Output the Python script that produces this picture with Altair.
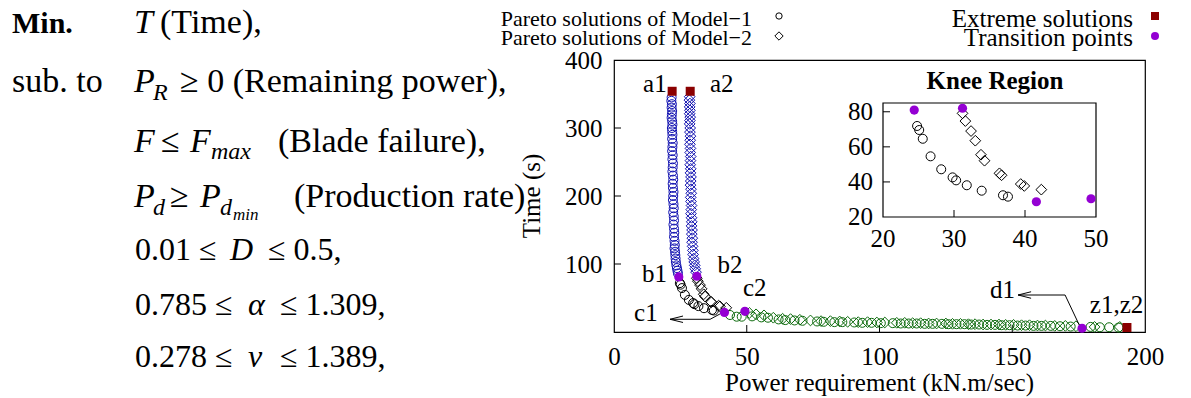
import altair as alt
import pandas as pd

FONT = "Liberation Serif"

# ---------------- data ----------------
# Model-1 Pareto solutions (circles)
m1_blue_x = [21.7, 21.6, 21.8, 21.7, 21.9, 21.8, 21.7, 21.9, 22.0, 21.8,
             21.9, 22.0, 21.9, 22.1, 22.0, 21.9, 22.1, 22.0, 22.2, 22.1,
             22.0, 22.2, 22.3, 22.1, 22.2, 22.4, 22.3, 22.2, 22.4, 22.5,
             22.3, 22.5, 22.6, 22.4, 22.6, 22.7, 22.6, 22.8, 22.9, 22.8,
             23.0, 23.1, 23.2, 23.3, 23.5, 23.7, 23.9, 24.1]
m1_blue_y = [345, 340, 335, 330, 325, 320, 315, 310, 305, 300,
             295, 290, 284, 278, 272, 266, 260, 254, 248, 242,
             236, 230, 224, 218, 212, 206, 200, 194, 188, 182,
             176, 170, 164, 158, 152, 146, 140, 134, 128, 123,
             118, 113, 108, 103, 98, 94, 90, 86]
m1_knee_x = [24.8, 25.1, 25.6, 26.7, 28.2, 29.8, 30.3, 31.8, 33.9, 36.9, 37.6]
m1_knee_y = [71.9, 69.6, 64.6, 54.6, 47.2, 42.6, 40.9, 38.1, 35.0, 32.4, 31.6]
m1_green_x = [43.7, 46.2, 48.1, 52.0, 55.5, 58.0, 62.0, 64.5, 68.0, 71.0,
              76.5, 79.0, 83.0, 86.0, 90.5, 93.5, 97.0, 100.5, 105.0, 108.0,
              111.0, 114.0, 117.0, 120.0, 123.5, 126.0, 129.0, 132.0, 134.5, 137.5,
              140.5, 143.5, 146.0, 149.0, 152.0, 155.0, 158.0, 161.0, 164.5, 168.0,
              172.0, 179.5, 183.0, 186.5, 190.0]
m1_green_y = [25.0, 22.5, 22.5, 23.0, 21.5, 21.0, 18.5, 17.5, 17.0, 16.5,
              15.5, 15.0, 14.5, 14.5, 14.0, 13.5, 13.5, 13.0, 13.0, 12.5,
              12.5, 12.5, 12.0, 12.0, 12.0, 11.5, 11.5, 11.5, 11.0, 11.0,
              10.5, 10.5, 10.0, 10.0, 9.5, 9.5, 9.0, 9.0, 9.0, 8.5,
              8.0, 7.5, 7.0, 7.0, 6.5]

# Model-2 Pareto solutions (diamonds)
m2_blue_x = [28.5, 28.4, 28.6, 28.5, 28.6, 28.5, 28.7, 28.6, 28.5, 28.7,
             28.6, 28.8, 28.7, 28.6, 28.8, 28.7, 28.9, 28.8, 28.7, 28.9,
             28.8, 29.0, 28.9, 28.8, 29.0, 29.1, 28.9, 29.0, 29.2, 29.1,
             29.0, 29.2, 29.3, 29.2, 29.4, 29.3, 29.5, 29.4, 29.6, 29.7,
             29.8, 30.0, 30.2, 30.4, 30.6, 30.9]
m2_blue_y = [346, 341, 336, 331, 326, 321, 316, 311, 306, 300,
             294, 288, 282, 276, 270, 264, 258, 252, 246, 240,
             234, 228, 222, 216, 210, 204, 198, 192, 186, 180,
             174, 168, 162, 156, 150, 144, 138, 132, 126, 120,
             114, 108, 103, 98, 93, 88]
m2_knee_x = [31.2, 31.6, 32.4, 33.0, 33.8, 34.3, 36.4, 36.7, 39.4, 39.9, 42.3]
m2_knee_y = [79.1, 74.7, 69.0, 63.5, 55.5, 52.1, 44.9, 43.8, 38.8, 37.7, 35.6]
m2_green_x = [51.0, 53.5, 56.5, 60.0, 63.5, 66.5, 70.0, 74.0, 78.0, 81.5,
              85.0, 88.0, 92.0, 95.5, 99.0, 102.0, 106.5, 109.5, 112.5, 115.5,
              118.5, 121.5, 125.0, 127.5, 130.5, 133.5, 136.0, 139.0, 142.0, 145.0,
              147.5, 150.5, 153.5, 156.5, 159.5, 162.5, 166.0, 170.0, 174.0, 181.0,
              190.5]
m2_green_y = [28.0, 26.0, 24.5, 21.0, 19.5, 19.0, 18.0, 17.0, 16.0, 16.0,
              15.5, 15.0, 14.5, 14.5, 14.0, 14.0, 13.5, 13.5, 13.0, 13.0,
              12.5, 12.5, 12.5, 12.0, 12.0, 11.5, 11.5, 11.0, 11.0, 11.0,
              10.5, 10.5, 10.0, 10.0, 9.5, 9.5, 9.0, 9.0, 8.5, 7.5,
              7.5]

# Extreme solutions (a1, a2, z1/z2) and transition points (b1, b2, c1, c2, d1)
extreme_x = [21.9, 28.7, 193.2]
extreme_y = [354, 354, 6.6]
trans_x = [24.4, 31.2, 41.6, 49.3, 176.3]
trans_y = [81.0, 82.0, 28.7, 30.4, 5.5]
inset_trans_x = trans_x[:4]
inset_trans_y = trans_y[:4]

# point labels
label_text = ["a1", "a2", "b1", "b2", "c1", "c2", "d1", "z1,z2"]
label_x = [15.4, 40.6, 15.3, 43.7, 12.0, 53.0, 146.3, 189.3]
label_y = [364, 364, 86, 98, 27.5, 64, 62, 40]

# annotation arrows (segments, data units)
arrow_x = [21.1, 36.2, 21.1, 21.1, 152.2, 169.9, 152.2, 152.2]
arrow_y = [18.7, 18.7, 18.7, 18.7, 54.4, 54.4, 54.4, 54.4]
arrow_x2 = [36.2, 39.9, 26.0, 26.0, 169.9, 175.5, 157.1, 157.1]
arrow_y2 = [18.7, 26.5, 23.5, 14.0, 54.4, 8.1, 59.2, 49.6]

# axes
x_ticks = [0, 50, 100, 150, 200]
y_ticks = [100, 200, 300, 400]
x_inner_ticks = [50, 100, 150]
y_inner_ticks = [100, 200, 300]
inset_x_ticks = [20, 30, 40, 50]
inset_y_ticks = [20, 40, 60, 80]
inset_x_inner = [30, 40]
inset_y_inner = [40, 60, 80]

BLUE = "#1010b0"
BLACK = "#000000"
GREEN = "#0c6a0c"

# ---------------- tables ----------------
def cat(xs, ys, col):
    return pd.DataFrame({"x": xs, "y": ys, "col": [col] * len(xs)})

m1_df = pd.concat([cat(m1_blue_x, m1_blue_y, BLUE), cat(m1_knee_x, m1_knee_y, BLACK),
                   cat(m1_green_x, m1_green_y, GREEN)], ignore_index=True)
m2_df = pd.concat([cat(m2_blue_x, m2_blue_y, BLUE), cat(m2_knee_x, m2_knee_y, BLACK),
                   cat(m2_green_x, m2_green_y, GREEN)], ignore_index=True)
ext_df = pd.DataFrame({"x": extreme_x, "y": extreme_y})
tr_df = pd.DataFrame({"x": trans_x, "y": trans_y})
lab_df = pd.DataFrame({"t": label_text, "x": label_x, "y": label_y})
arr_df = pd.DataFrame({"x": arrow_x, "y": arrow_y, "x2": arrow_x2, "y2": arrow_y2})

# ---------------- main plot ----------------
xs_main = alt.Scale(domain=[0, 200], nice=False, zero=False)
ys_main = alt.Scale(domain=[0, 400], nice=False, zero=False)
ax_common = dict(labelFont=FONT, labelFontSize=25, labelColor="black", tickSize=0,
                 domain=False, grid=False, labelPadding=12, title=None, labelFlush=False,
                 labelOverlap=False)
x_axis = alt.Axis(values=x_ticks, **ax_common)
y_axis = alt.Axis(values=y_ticks, **ax_common)


def MX(f="x"):
    return alt.X(f"{f}:Q", scale=xs_main, axis=x_axis)


def MY(f="y"):
    return alt.Y(f"{f}:Q", scale=ys_main, axis=y_axis)


CIRC, DIAM = 81, 115

xt = alt.Chart(pd.DataFrame({"v": x_inner_ticks})).mark_rule(color="black", strokeWidth=1).encode(
    x=MX("v"), y=alt.value(272), y2=alt.value(265))
yt = alt.Chart(pd.DataFrame({"v": y_inner_ticks})).mark_rule(color="black", strokeWidth=1).encode(
    y=MY("v"), x=alt.value(0), x2=alt.value(7))

m1 = alt.Chart(m1_df).mark_point(shape="circle", filled=False, size=CIRC, strokeWidth=1, opacity=1).encode(
    x=MX(), y=MY(), color=alt.Color("col:N", scale=None))
m2 = alt.Chart(m2_df).mark_point(shape="diamond", filled=False, size=DIAM, strokeWidth=1, opacity=1).encode(
    x=MX(), y=MY(), color=alt.Color("col:N", scale=None))
ext = alt.Chart(ext_df).mark_point(shape="square", filled=True, size=81, color="#8b0000", opacity=1).encode(
    x=MX(), y=MY())
tr = alt.Chart(tr_df).mark_point(shape="circle", filled=True, size=85, color="#9400d3", opacity=1).encode(
    x=MX(), y=MY())
arr = alt.Chart(arr_df).mark_rule(color="black", strokeWidth=1).encode(
    x=MX(), y=MY(), x2="x2:Q", y2="y2:Q")
labs = alt.Chart(lab_df).mark_text(font=FONT, fontSize=25, baseline="middle", align="center",
                                   color="black").encode(x=MX(), y=MY(), text="t:N")

main = alt.layer(xt, yt, m1, m2, arr, ext, tr, labs)

# ---------------- inset (knee region) ----------------
xs_in = alt.Scale(domain=[20, 50], range=[269, 482], nice=False, zero=False)
ys_in = alt.Scale(domain=[20, 85], range=[157, 43], nice=False, zero=False)


def IX(f="x"):
    return alt.X(f"{f}:Q", scale=xs_in, axis=None)


def IY(f="y"):
    return alt.Y(f"{f}:Q", scale=ys_in, axis=None)


frame = alt.Chart(pd.DataFrame({"x": [20], "x2": [50], "y": [20], "y2": [85]})).mark_rect(
    fill="white", stroke="black", strokeWidth=1.2).encode(x=IX(), x2="x2:Q", y=IY(), y2="y2:Q")
ixt = alt.Chart(pd.DataFrame({"v": inset_x_inner})).mark_rule(color="black").encode(
    x=IX("v"), y=alt.value(157), y2=alt.value(150))
iyt = alt.Chart(pd.DataFrame({"v": inset_y_inner})).mark_rule(color="black").encode(
    y=IY("v"), x=alt.value(269), x2=alt.value(276))
ixl = alt.Chart(pd.DataFrame({"v": inset_x_ticks})).mark_text(
    font=FONT, fontSize=25, baseline="middle", align="center", color="black").encode(
    x=IX("v"), y=alt.value(179), text="v:Q")
iyl = alt.Chart(pd.DataFrame({"v": inset_y_ticks})).mark_text(
    font=FONT, fontSize=25, baseline="middle", align="right", color="black").encode(
    y=IY("v"), x=alt.value(259), text="v:Q")
i1 = alt.Chart(pd.DataFrame({"x": m1_knee_x, "y": m1_knee_y})).mark_point(
    shape="circle", filled=False, size=CIRC, strokeWidth=1, color="black", opacity=1).encode(x=IX(), y=IY())
i2 = alt.Chart(pd.DataFrame({"x": m2_knee_x, "y": m2_knee_y})).mark_point(
    shape="diamond", filled=False, size=DIAM, strokeWidth=1, color="black", opacity=1).encode(x=IX(), y=IY())
itr = alt.Chart(pd.DataFrame({"x": inset_trans_x, "y": inset_trans_y})).mark_point(
    shape="circle", filled=True, size=85, color="#9400d3", opacity=1).encode(x=IX(), y=IY())
ititle = alt.Chart(pd.DataFrame({"t": ["Knee Region"]})).mark_text(
    font=FONT, fontSize=25, fontWeight="bold", align="center", baseline="alphabetic", color="black").encode(
    x=alt.value(381), y=alt.value(29), text="t:N")

inset = alt.layer(frame, ixt, iyt, i1, i2, itr, ixl, iyl, ititle)

# ---------------- free text: titles, legend, formulation ----------------
xtitle = alt.Chart(pd.DataFrame({"t": ["Power requirement (kN.m/sec)"]})).mark_text(
    font=FONT, fontSize=25, align="center", baseline="middle", color="black").encode(
    x=alt.value(265.5), y=alt.value(323), text="t:N")
ytitle = alt.Chart(pd.DataFrame({"t": ["Time (s)"]})).mark_text(
    font=FONT, fontSize=25, align="center", baseline="middle", angle=270, color="black").encode(
    x=alt.value(-82), y=alt.value(136), text="t:N")

leg_text = ["Pareto solutions of Model\u22121", "Pareto solutions of Model\u22122",
            "Extreme solutions", "Transition points"]
leg_df = pd.DataFrame({"t": leg_text, "px": [138, 138, 519, 519], "py": [-41, -22, -41, -22],
                       "fs": [22, 22, 25, 25]})
leg = alt.Chart(leg_df).mark_text(font=FONT, align="right", baseline="middle",
                                  color="black").encode(
    x=alt.X("px:Q", scale=None, axis=None), y=alt.Y("py:Q", scale=None, axis=None), text="t:N",
    size=alt.Size("fs:Q", scale=None, legend=None))
one = pd.DataFrame({"a": [0]})
ls1 = alt.Chart(one).mark_point(shape="circle", filled=False, size=40, strokeWidth=1, color="black",
                                opacity=1).encode(x=alt.value(165), y=alt.value(-44))
ls2 = alt.Chart(one).mark_point(shape="diamond", filled=False, size=70, strokeWidth=1, color="black",
                                opacity=1).encode(x=alt.value(165), y=alt.value(-24))
ls3 = alt.Chart(one).mark_point(shape="square", filled=True, size=64, color="#8b0000",
                                opacity=1).encode(x=alt.value(541), y=alt.value(-44))
ls4 = alt.Chart(one).mark_point(shape="circle", filled=True, size=64, color="#9400d3",
                                opacity=1).encode(x=alt.value(541), y=alt.value(-24))

# Optimisation model (left), page coordinates converted to plot-relative pixels
OX, OY = 614, 60
base = [33, 92, 152, 207, 260, 315, 367]
roman = [("(Time),", 160, 0, 0, 34),
         ("sub. to", 12, 1, 0, 34), ("\u2265 0 (Remaining power),", 180, 1, 0, 34),
         ("\u2264", 161, 2, 0, 34), ("(Blade failure),", 278, 2, 0, 34),
         ("\u2265", 170, 3, 0, 34), ("(Production rate)", 294, 3, 0, 34),
         ("0.01 \u2264", 135, 4, 0, 32), ("\u2264 0.5,", 268, 4, 0, 32),
         ("0.785 \u2264", 135, 5, 0, 32), ("\u2264 1.309,", 280, 5, 0, 32),
         ("0.278 \u2264", 135, 6, 0, 32), ("\u2264 1.389,", 280, 6, 0, 32)]
italic = [("T", 134, 0, 0, 34),
          ("P", 134, 1, 0, 34), ("R", 153, 1, 8, 24),
          ("F", 134, 2, 0, 34), ("F", 190, 2, 0, 34), ("max", 211, 2, 7, 24),
          ("P", 134, 3, 0, 34), ("d", 153, 3, 8, 24), ("P", 200, 3, 0, 34),
          ("d", 220, 3, 8, 24), ("min", 233, 3, 13, 17),
          ("D", 230, 4, 0, 32), ("\u03b1", 248, 5, 0, 32), ("v", 248, 6, 0, 32)]
bold = [("Min.", 12, 0, 0, 30)]


def seg_df(rows):
    return pd.DataFrame({"t": [r[0] for r in rows],
                         "px": [r[1] - OX for r in rows],
                         "py": [base[r[2]] + r[3] - OY for r in rows],
                         "fs": [r[4] for r in rows]})


def seg_layer(rows, **kw):
    return alt.Chart(seg_df(rows)).mark_text(font=FONT, align="left", baseline="alphabetic",
                                             color="black", **kw).encode(
        x=alt.X("px:Q", scale=None, axis=None), y=alt.Y("py:Q", scale=None, axis=None),
        text="t:N", size=alt.Size("fs:Q", scale=None, legend=None))


free = alt.layer(xtitle, ytitle, leg, ls1, ls2, ls3, ls4,
                 seg_layer(roman), seg_layer(italic, fontStyle="italic"),
                 seg_layer(bold, fontWeight="bold"))

chart = alt.layer(main, inset, free).resolve_scale(
    x="independent", y="independent"
).properties(
    width=531, height=272,
    padding={"left": 606, "top": 52, "right": 22, "bottom": 66},
    autosize=alt.AutoSizeParams(type="none"),
).configure_view(stroke="black", strokeWidth=1.2)

chart.save("out.html", embed_options={"renderer": "svg", "actions": False})
